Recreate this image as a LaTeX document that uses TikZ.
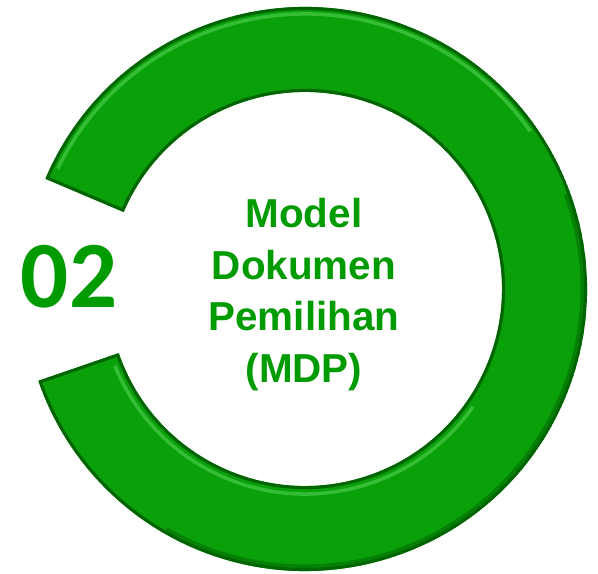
\documentclass[tikz,border=0pt]{standalone}
\usepackage{fontspec}
\newfontfamily\numfont{Carlito}
\newfontfamily\titlefont{Liberation Sans}
\definecolor{ringgreen}{RGB}{10,160,10}
\definecolor{ringdark}{RGB}{0,100,0}
\definecolor{ringlight}{RGB}{90,215,90}
\definecolor{textgreen}{RGB}{0,155,0}
\tikzset{
    ringbody/.style = {fill=ringgreen},
    ringedge/.style = {draw=ringdark, line width=3.5pt},
    ringshine/.style = {draw=ringlight, line width=2pt, opacity=0.55},
    ringshade/.style = {draw=ringdark, line width=3pt, opacity=0.5},
    numlabel/.style = {inner sep=0pt, text=textgreen, font=\numfont\bfseries\fontsize{54}{54}\selectfont},
    titlelabel/.style = {align=center, inner sep=0pt, text=textgreen, font=\titlefont\bfseries\fontsize{23}{29.5}\selectfont}
}
\newcommand{\ringshape}{(157:282) arc[start angle=157, end angle=-161, radius=282]
    -- (-161:197) arc[start angle=-161, end angle=157, radius=197] -- cycle}

\begin{document}
\begin{tikzpicture}[x=0.02cm, y=0.02cm]
    \useasboundingbox (0,0) rectangle (598,574);
    % open ring
    \begin{scope}[shift={(305,285)}]
        \begin{scope}
            \clip \ringshape;
            \fill[ringbody] \ringshape;
            \draw[ringedge] \ringshape;
            \draw[ringshine] (154:275) arc[start angle=154, end angle=35, radius=275];
            \draw[ringshine] (-158:205) arc[start angle=-158, end angle=-35, radius=205];
            \draw[ringshade] (20:278) arc[start angle=20, end angle=-120, radius=278];
        \end{scope}
    \end{scope}
    % labels
    \node[numlabel, anchor=base] (num) at (69,266) {02};
    \node[titlelabel] (title) at (304,279.5) {Model\\Dokumen\\Pemilihan\\(MDP)};
\end{tikzpicture}
\end{document}
